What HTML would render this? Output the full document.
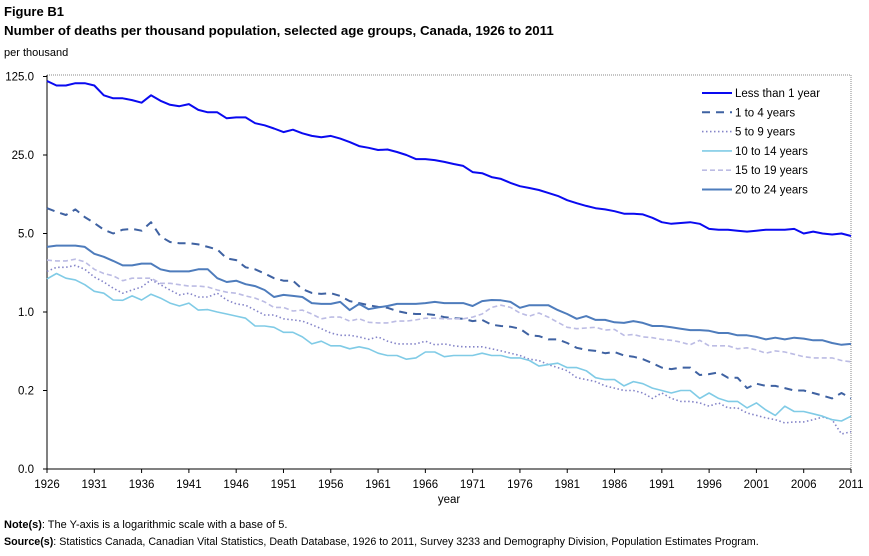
<!DOCTYPE html>
<html><head><meta charset="utf-8"><style>
body{margin:0;background:#fff;font-family:"Liberation Sans",Arial,sans-serif;}
svg text{font-family:"Liberation Sans",Arial,sans-serif;}
</style></head><body>
<svg width="869" height="551" viewBox="0 0 869 551" xmlns="http://www.w3.org/2000/svg">
<text x="4" y="16" font-size="13" font-weight="bold">Figure B1</text>
<text x="4" y="35" font-size="13.3" font-weight="bold">Number of deaths per thousand population, selected age groups, Canada, 1926 to 2011</text>
<text x="4" y="56" font-size="11">per thousand</text>
<g id="grid"></g>
<g id="series"></g>
<g id="legend"></g>
<text x="449" y="503" font-size="11.5" text-anchor="middle">year</text>
<text x="4" y="528" font-size="11"><tspan font-weight="bold">Note(s)</tspan>: The Y-axis is a logarithmic scale with a base of 5.</text>
<text x="4" y="545" font-size="10.7"><tspan font-weight="bold">Source(s)</tspan>: Statistics Canada, Canadian Vital Statistics, Death Database, 1926 to 2011, Survey 3233 and Demography Division, Population Estimates Program.</text>
</svg>
<script>
const yearStart = 1926, yearEnd = 2011;
const yTicks = [125, 25, 5, 1, 0.2, 0.04];
const yTickLabels = ["125.0","25.0","5.0","1.0","0.2","0.0"];
const xTickYears = [1926,1931,1936,1941,1946,1951,1956,1961,1966,1971,1976,1981,1986,1991,1996,2001,2006,2011];
const seriesNames = ["Less than 1 year","1 to 4 years","5 to 9 years","10 to 14 years","15 to 19 years","20 to 24 years"];
const under1 = [114,104,104,109,109,104,85,80,80,77,73,85,76,70,68,71,63,60,60,53,54,54,48,46,43,40,42,39,37,36,37,35,32.6,30,29,27.7,28,26.6,25,23,23,22.5,21.7,20.8,20,17.6,17.2,15.9,15.3,14.1,13.2,12.7,12.2,11.5,10.8,9.9,9.3,8.8,8.4,8.2,7.9,7.5,7.5,7.4,6.9,6.3,6.1,6.2,6.3,6.1,5.5,5.4,5.4,5.3,5.2,5.3,5.4,5.4,5.4,5.5,5.0,5.2,5.0,4.9,5.0,4.75];
const age1to4 = [8.4,7.8,7.3,8.2,7.0,6.2,5.4,5.0,5.4,5.5,5.3,6.3,4.7,4.2,4.1,4.1,4.0,3.8,3.6,3.0,2.9,2.5,2.4,2.2,2.0,1.9,1.9,1.6,1.48,1.45,1.47,1.39,1.25,1.2,1.15,1.11,1.09,1.02,0.98,0.96,0.96,0.94,0.9,0.88,0.87,0.83,0.85,0.77,0.75,0.74,0.71,0.62,0.61,0.57,0.57,0.53,0.48,0.46,0.45,0.43,0.44,0.41,0.40,0.38,0.35,0.32,0.31,0.32,0.32,0.275,0.28,0.29,0.26,0.26,0.21,0.23,0.22,0.22,0.21,0.2,0.2,0.19,0.18,0.17,0.19,0.17];
const age5to9 = [2.3,2.5,2.5,2.6,2.4,2.05,1.85,1.63,1.47,1.57,1.67,1.93,1.75,1.57,1.42,1.47,1.36,1.36,1.47,1.28,1.18,1.15,1.04,0.94,0.94,0.87,0.85,0.83,0.77,0.71,0.65,0.62,0.62,0.6,0.57,0.6,0.55,0.52,0.52,0.52,0.55,0.51,0.52,0.5,0.49,0.49,0.49,0.47,0.45,0.43,0.41,0.38,0.37,0.34,0.32,0.3,0.26,0.25,0.24,0.22,0.21,0.2,0.2,0.19,0.17,0.19,0.17,0.16,0.16,0.155,0.145,0.155,0.14,0.14,0.126,0.12,0.114,0.11,0.103,0.105,0.105,0.11,0.116,0.11,0.082,0.086];
const age10to14 = [1.97,2.2,2.0,1.93,1.75,1.53,1.47,1.28,1.27,1.39,1.28,1.44,1.33,1.2,1.13,1.2,1.04,1.05,1.0,0.96,0.92,0.88,0.75,0.75,0.73,0.66,0.66,0.6,0.52,0.55,0.5,0.5,0.47,0.49,0.47,0.43,0.41,0.41,0.38,0.39,0.44,0.44,0.4,0.41,0.41,0.41,0.43,0.41,0.41,0.39,0.39,0.37,0.33,0.34,0.35,0.32,0.32,0.3,0.26,0.25,0.25,0.22,0.24,0.23,0.21,0.2,0.19,0.2,0.2,0.17,0.19,0.17,0.16,0.16,0.14,0.155,0.134,0.12,0.145,0.13,0.13,0.124,0.118,0.11,0.107,0.118];
const age15to19 = [2.9,2.85,2.85,2.95,2.8,2.4,2.2,2.1,1.9,2.0,2.0,2.0,1.8,1.8,1.75,1.7,1.7,1.67,1.57,1.5,1.47,1.39,1.33,1.23,1.1,1.1,1.02,1.04,0.96,0.87,0.9,0.9,0.83,0.87,0.81,0.8,0.8,0.83,0.83,0.85,0.88,0.88,0.87,0.87,0.87,0.9,0.96,1.1,1.15,1.1,0.98,0.92,0.98,0.9,0.81,0.73,0.71,0.72,0.73,0.69,0.7,0.62,0.63,0.6,0.59,0.57,0.56,0.54,0.51,0.56,0.5,0.5,0.5,0.47,0.48,0.46,0.43,0.45,0.44,0.42,0.4,0.39,0.39,0.39,0.37,0.36];
const age20to24 = [3.8,3.9,3.9,3.9,3.8,3.3,3.1,2.85,2.6,2.6,2.7,2.7,2.4,2.3,2.3,2.3,2.4,2.4,2.0,1.85,1.9,1.77,1.7,1.57,1.36,1.42,1.39,1.36,1.2,1.18,1.18,1.23,1.04,1.18,1.06,1.1,1.13,1.18,1.18,1.18,1.2,1.23,1.2,1.2,1.2,1.13,1.25,1.28,1.27,1.23,1.09,1.15,1.15,1.15,1.04,0.96,0.87,0.92,0.85,0.85,0.81,0.8,0.83,0.8,0.75,0.75,0.73,0.71,0.69,0.69,0.68,0.65,0.65,0.62,0.62,0.6,0.57,0.59,0.57,0.59,0.58,0.56,0.56,0.53,0.51,0.52];

const NS="http://www.w3.org/2000/svg";
const L=47,R=851,T=75,B=469;
function xScale(yr){return L+(yr-yearStart)*(R-L)/(yearEnd-yearStart);}
function yScale(v){return 312-78.5*Math.log(v)/Math.log(5);}
function mk(tag,attrs,parent){const e=document.createElementNS(NS,tag);for(const k in attrs)e.setAttribute(k,attrs[k]);parent.appendChild(e);return e;}
const grid=document.getElementById('grid');
mk('line',{x1:L,y1:T,x2:R,y2:T,stroke:'#888','stroke-dasharray':'1,1'},grid);
mk('line',{x1:R,y1:T,x2:R,y2:B,stroke:'#888','stroke-dasharray':'1,1'},grid);
mk('line',{x1:L,y1:T,x2:L,y2:B,stroke:'#000'},grid);
mk('line',{x1:L,y1:B,x2:R,y2:B,stroke:'#000'},grid);
yTicks.forEach((v,i)=>{const y=yScale(v);
 mk('line',{x1:L-4,y1:y,x2:L,y2:y,stroke:'#000'},grid);
 const t=mk('text',{x:L-13,y:y+4,'font-size':'11.5','text-anchor':'end'},grid);t.textContent=yTickLabels[i];
 
 
});
xTickYears.forEach(yr=>{const x=xScale(yr);
 mk('line',{x1:x,y1:B,x2:x,y2:B+4,stroke:'#000'},grid);
 const t=mk('text',{x:x,y:B+19,'font-size':'11.5','text-anchor':'middle'},grid);t.textContent=yr;
 
 
});
const datasets=[under1,age1to4,age5to9,age10to14,age15to19,age20to24];
const styles=[
 {stroke:'#0a0af0',w:2,dash:''},
 {stroke:'#3f62a2',w:2,dash:'8,6'},
 {stroke:'#8484c8',w:1.6,dash:'1.5,2.5'},
 {stroke:'#80cbe6',w:1.6,dash:''},
 {stroke:'#bcbce4',w:1.6,dash:'5,3'},
 {stroke:'#4e7cbc',w:2,dash:''}];
const sg=document.getElementById('series');
const slugs=['series-less-than-1','series-1-to-4','series-5-to-9','series-10-to-14','series-15-to-19','series-20-to-24'];
datasets.forEach((d,i)=>{
 const pts=d.map((v,j)=>xScale(yearStart+j).toFixed(1)+','+yScale(v).toFixed(1)).join(' ');
 const p=mk('polyline',{points:pts,fill:'none',stroke:styles[i].stroke,'stroke-width':styles[i].w,'stroke-dasharray':styles[i].dash,'stroke-linejoin':'round'},sg);
 
 
});
const lg=document.getElementById('legend');
seriesNames.forEach((n,i)=>{const y=93+i*19.3;
 const l=mk('line',{x1:702,y1:y,x2:732,y2:y,stroke:styles[i].stroke,'stroke-width':styles[i].w,'stroke-dasharray':styles[i].dash},lg);
 
 
 const t=mk('text',{x:735,y:y+4,'font-size':'11.5'},lg);t.textContent=n;
 
 
});
</script>
</body></html>
